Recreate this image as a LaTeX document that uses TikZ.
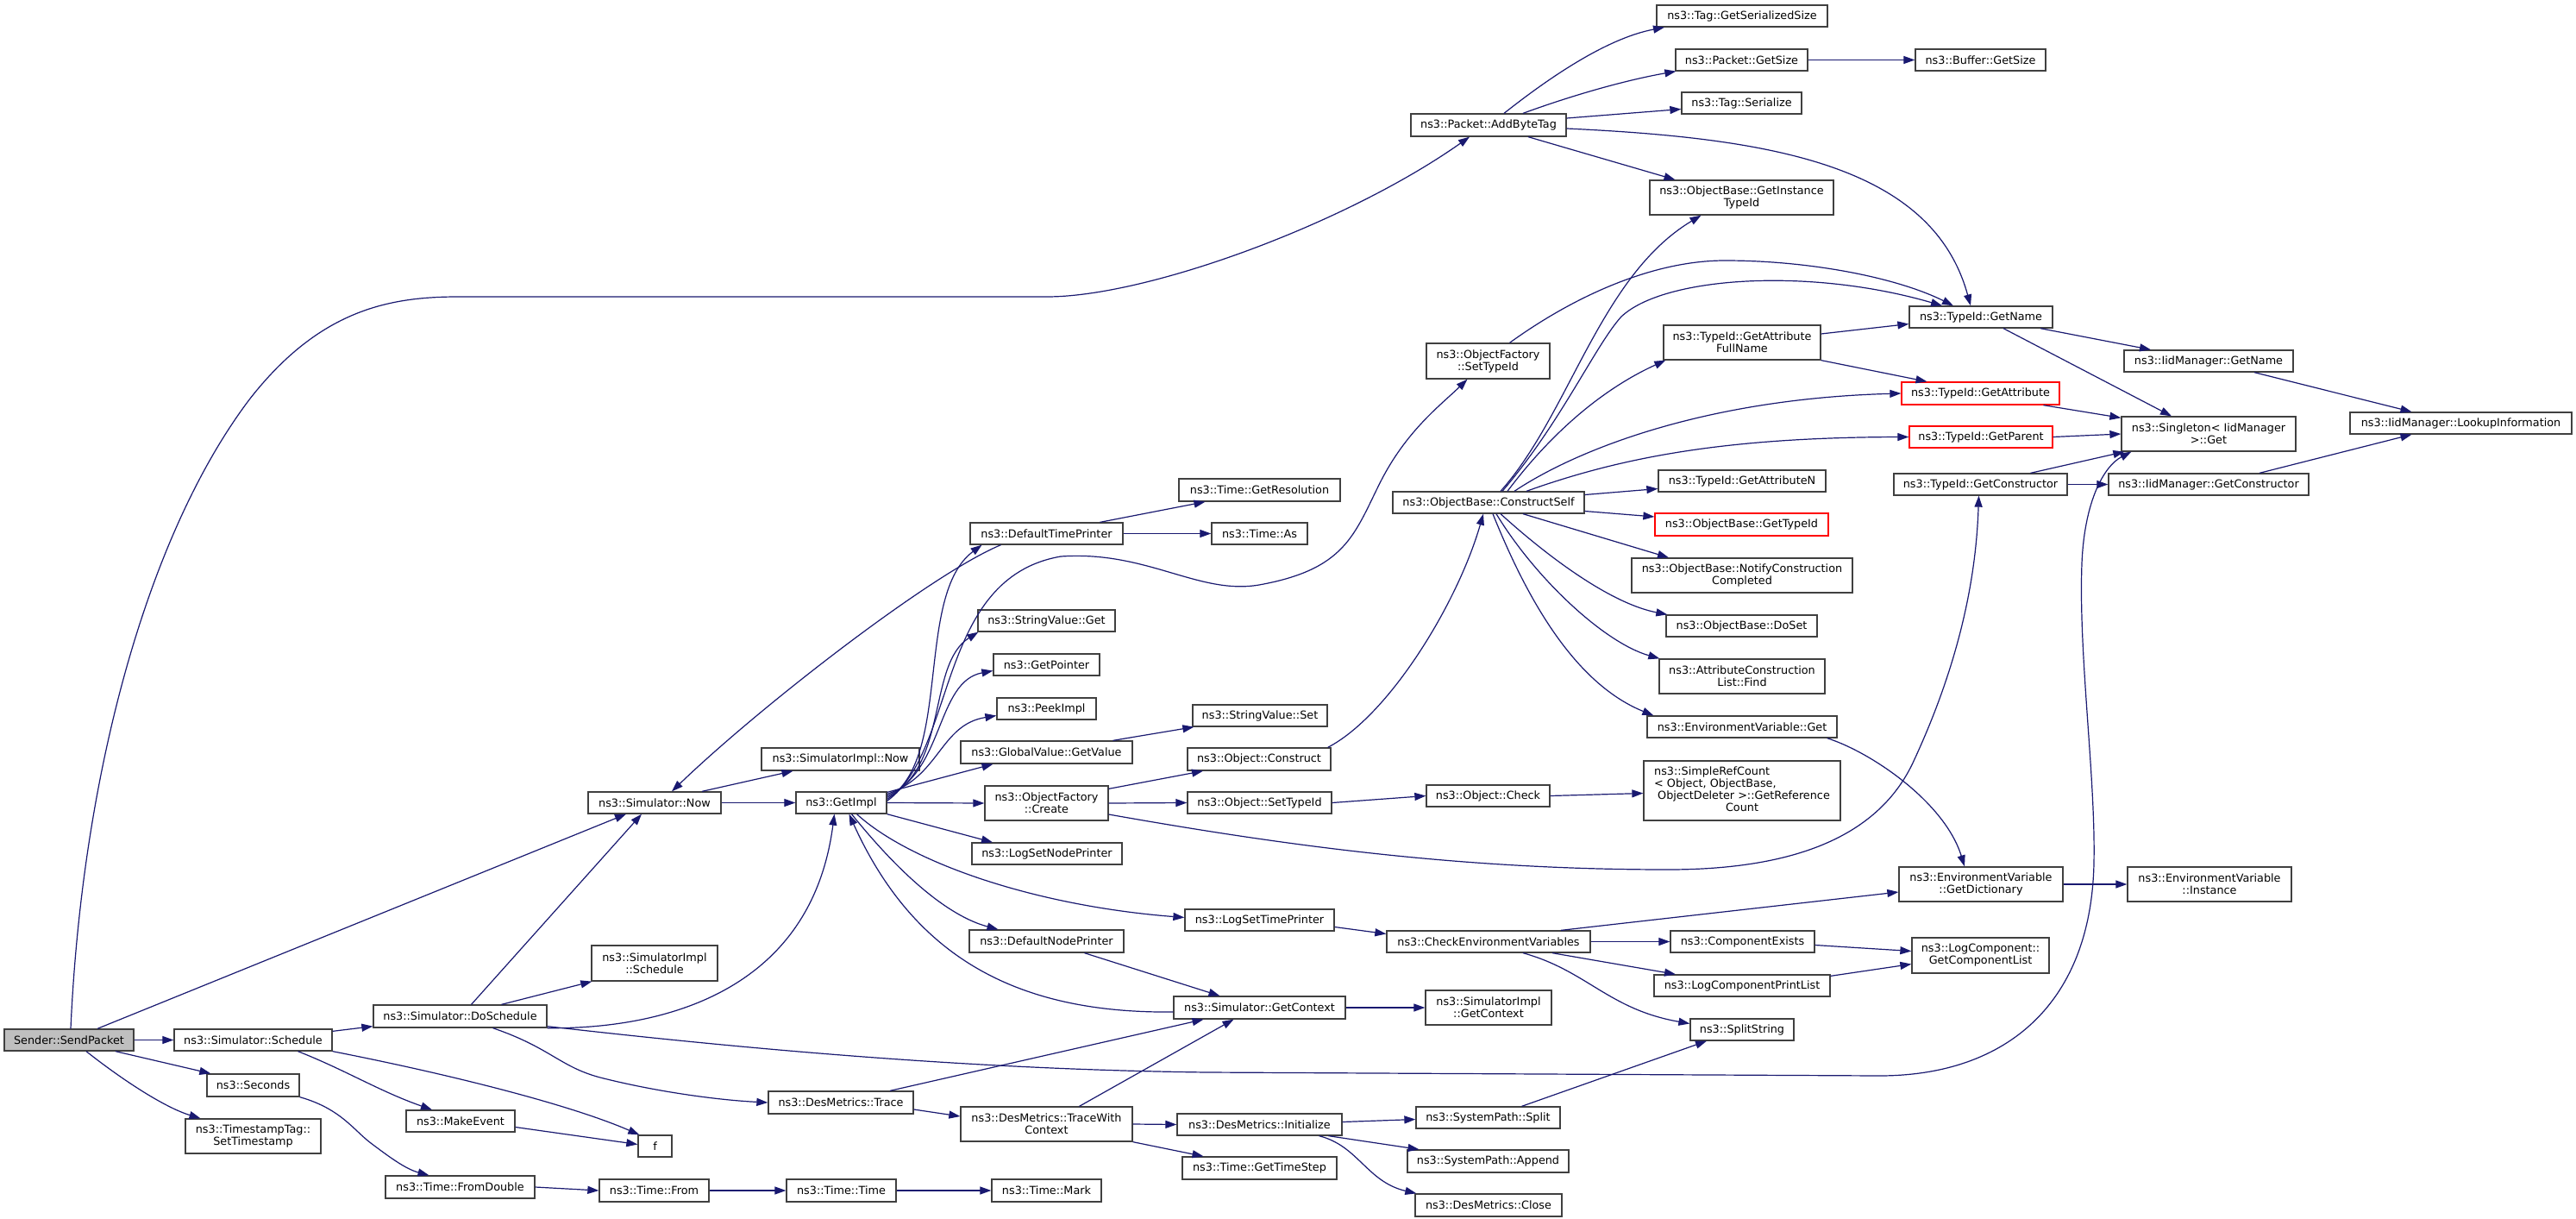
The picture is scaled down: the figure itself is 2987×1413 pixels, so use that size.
\documentclass[tikz,border=0pt]{standalone}
\usepackage{fontspec}
\setmainfont{DejaVu Sans}
\usetikzlibrary{arrows.meta}
\definecolor{edgec}{HTML}{191970}
\definecolor{bord}{HTML}{404040}
\definecolor{rootfill}{HTML}{BFBFBF}
\newcommand\nd[7][]{\node[box,#1,minimum width={#4-#3},minimum height={#6-#5}] (#2) at ({(#3+#4)/2},{(#5+#6)/2}) {#7};}
\begin{document}
\begin{tikzpicture}[x=1pt,y=-1pt,
  box/.style={draw=bord,line width=1.3pt,fill=white,inner sep=0pt,align=center,font=\fontsize{12.8}{14}\selectfont},
  redbox/.style={draw=red},
  rootbox/.style={fill=rootfill},
  edg/.style={draw=edgec,line width=1.2pt,-{Triangle[length=13pt,width=9pt,fill=edgec]}}]
\fill[white] (0,0) rectangle (2987,1413);
\useasboundingbox (0,0) rectangle (2987,1413);
% nodes
\nd[rootbox]{send}{5}{155}{1193}{1218}{Sender::SendPacket}
\nd{sched}{202}{385}{1193}{1218}{ns3::Simulator::Schedule}
\nd{seconds}{240}{347}{1245}{1271}{ns3::Seconds}
\nd{tstamp}{215}{372}{1297}{1337}{ns3::TimestampTag::\\SetTimestamp}
\nd{dosched}{433}{634}{1165}{1191}{ns3::Simulator::DoSchedule}
\nd{mkev}{471}{597}{1287}{1312}{ns3::MakeEvent}
\nd{fromdbl}{447}{620}{1363}{1389}{ns3::Time::FromDouble}
\nd{f}{740}{779}{1316}{1341}{f}
\nd{tfrom}{695}{822}{1367}{1393}{ns3::Time::From}
\nd{ttime}{912}{1039}{1367}{1393}{ns3::Time::Time}
\nd{tmark}{1150}{1277}{1367}{1393}{ns3::Time::Mark}
\nd{simnow}{682}{836}{918}{943}{ns3::Simulator::Now}
\nd{getimpl}{923}{1028}{918}{943}{ns3::GetImpl}
\nd{simimplnow}{883}{1066}{867}{893}{ns3::SimulatorImpl::Now}
\nd{simimplsched}{686}{832}{1096}{1137}{ns3::SimulatorImpl\\::Schedule}
\nd{trace}{891}{1059}{1265}{1291}{ns3::DesMetrics::Trace}
\nd{tracewc}{1114}{1313}{1283}{1323}{ns3::DesMetrics::TraceWith\\Context}
\nd{ofcreate}{1142}{1285}{911}{951}{ns3::ObjectFactory\\::Create}
\nd{logsetnode}{1127}{1301}{977}{1002}{ns3::LogSetNodePrinter}
\nd{defnode}{1124}{1303}{1078}{1104}{ns3::DefaultNodePrinter}
\nd{defTime}{1125}{1302}{606}{631}{ns3::DefaultTimePrinter}
\nd{svget}{1134}{1293}{707}{732}{ns3::StringValue::Get}
\nd{getptr}{1152}{1275}{758}{783}{ns3::GetPointer}
\nd{peek}{1156}{1271}{809}{834}{ns3::PeekImpl}
\nd{gvget}{1114}{1313}{859}{885}{ns3::GlobalValue::GetValue}
\nd{tres}{1367}{1554}{555}{581}{ns3::Time::GetResolution}
\nd{tas}{1405}{1516}{606}{631}{ns3::Time::As}
\nd{svset}{1383}{1539}{817}{842}{ns3::StringValue::Set}
\nd{oconstruct}{1377}{1543}{867}{893}{ns3::Object::Construct}
\nd{osettype}{1377}{1544}{918}{943}{ns3::Object::SetTypeId}
\nd{ocheck}{1654}{1797}{910}{935}{ns3::Object::Check}
\nd{logsettime}{1374}{1547}{1054}{1079}{ns3::LogSetTimePrinter}
\nd{checkenv}{1608}{1844}{1079}{1104}{ns3::CheckEnvironmentVariables}
\nd{simgetctx}{1361}{1560}{1155}{1181}{ns3::Simulator::GetContext}
\nd{simimplctx}{1653}{1799}{1148}{1188}{ns3::SimulatorImpl\\::GetContext}
\nd{desinit}{1365}{1556}{1291}{1316}{ns3::DesMetrics::Initialize}
\nd{gettimestep}{1371}{1550}{1341}{1367}{ns3::Time::GetTimeStep}
\nd{spsplit}{1642}{1809}{1283}{1308}{ns3::SystemPath::Split}
\nd{spappend}{1632}{1819}{1333}{1359}{ns3::SystemPath::Append}
\nd{desclose}{1641}{1811}{1384}{1410}{ns3::DesMetrics::Close}
\nd{simpleref}{1906}{2134}{882}{951}{\begin{tabular}{@{}l@{}}ns3::SimpleRefCount\\< Object, ObjectBase,\\\ ObjectDeleter >::GetReference\\\multicolumn{1}{@{}c@{}}{Count}\end{tabular}}
\nd{envget}{1910}{2130}{830}{855}{ns3::EnvironmentVariable::Get}
\nd{getdict}{2202}{2392}{1005}{1045}{ns3::EnvironmentVariable\\::GetDictionary}
\nd{envinst}{2467}{2657}{1005}{1045}{ns3::EnvironmentVariable\\::Instance}
\nd{compexists}{1937}{2104}{1079}{1104}{ns3::ComponentExists}
\nd{getcomplist}{2217}{2376}{1087}{1128}{ns3::LogComponent::\\GetComponentList}
\nd{logcompprint}{1918}{2122}{1130}{1155}{ns3::LogComponentPrintList}
\nd{splitstr}{1960}{2080}{1181}{1206}{ns3::SplitString}
\nd{constructself}{1615}{1837}{570}{595}{ns3::ObjectBase::ConstructSelf}
\nd{getattrN}{1923}{2117}{545}{570}{ns3::TypeId::GetAttributeN}
\nd[redbox]{obgettype}{1919}{2120}{595}{621}{ns3::ObjectBase::GetTypeId}
\nd{notify}{1892}{2148}{647}{687}{ns3::ObjectBase::NotifyConstruction\\Completed}
\nd{doset}{1932}{2107}{713}{738}{ns3::ObjectBase::DoSet}
\nd{acfind}{1924}{2116}{764}{804}{ns3::AttributeConstruction\\List::Find}
\nd{addbytetag}{1636}{1816}{132}{158}{ns3::Packet::AddByteTag}
\nd{tagsersize}{1921}{2119}{6}{31}{ns3::Tag::GetSerializedSize}
\nd{pktgetsize}{1943}{2096}{57}{82}{ns3::Packet::GetSize}
\nd{bufgetsize}{2221}{2372}{57}{82}{ns3::Buffer::GetSize}
\nd{tagser}{1950}{2089}{107}{132}{ns3::Tag::Serialize}
\nd{getinsttype}{1913}{2126}{209}{249}{ns3::ObjectBase::GetInstance\\TypeId}
\nd{ofsettype}{1654}{1797}{398}{439}{ns3::ObjectFactory\\::SetTypeId}
\nd{getattrfull}{1929}{2111}{377}{417}{ns3::TypeId::GetAttribute\\FullName}
\nd{tgetname}{2214}{2380}{355}{380}{ns3::TypeId::GetName}
\nd{iidgetname}{2463}{2659}{406}{431}{ns3::IidManager::GetName}
\nd[redbox]{getattr}{2205}{2388}{443}{469}{ns3::TypeId::GetAttribute}
\nd[redbox]{getparent}{2214}{2380}{494}{519}{ns3::TypeId::GetParent}
\nd{singleton}{2460}{2662}{483}{523}{ns3::Singleton< IidManager\\ >::Get}
\nd{lookup}{2725}{2982}{478}{503}{ns3::IidManager::LookupInformation}
\nd{tgetctor}{2196}{2397}{549}{574}{ns3::TypeId::GetConstructor}
\nd{iidgetctor}{2445}{2677}{549}{574}{ns3::IidManager::GetConstructor}
% edges from Sender::SendPacket
\draw[edg] ([xshift=2]send.north) .. controls (95,900) and (170,620) .. (290,462) .. controls (370,360) and (450,344) .. (531,344) -- (1214,344) .. controls (1330,344) and (1560,260) .. ([xshift=-22]addbytetag.south);
\draw[edg] ([xshift=33]send.north) -- ([xshift=-33]simnow.south);
\draw[edg] (send.east) -- (sched.west);
\draw[edg] ([xshift=54]send.south) -- ([xshift=5]seconds.north west);
\draw[edg] ([xshift=20]send.south) .. controls (150,1258) and (195,1285) .. ([xshift=-61]tstamp.north);
% Simulator::Schedule
\draw[edg] ([yshift=-3]sched.north east) -- ([yshift=2]dosched.south west);
\draw[edg] ([xshift=52]sched.south) .. controls (400,1240) and (440,1265) .. ([xshift=-33]mkev.north);
\draw[edg] (sched.south east) .. controls (520,1245) and (660,1280) .. ([xshift=2]f.north west);
\draw[edg] ([yshift=-7]mkev.east) -- ([yshift=2]f.west);
\draw[edg] (seconds.south east) .. controls (395,1285) and (410,1310) .. (430,1325) .. controls (450,1340) and (470,1355) .. ([xshift=-36]fromdbl.north);
\draw[edg] (fromdbl.east) -- (tfrom.west);
\draw[edg] (tfrom.east) -- (ttime.west);
\draw[edg] (ttime.east) -- (tmark.west);
% DoSchedule
\draw[edg] ([xshift=13]dosched.north) -- ([xshift=-15]simnow.south);
\draw[edg] ([xshift=48]dosched.north) -- ([xshift=1]simimplsched.south west);
\draw[edg] (dosched.south east) .. controls (760,1193) and (940,1155) .. ([xshift=-8]getimpl.south);
\draw[edg] ([yshift=2]dosched.south east) .. controls (900,1220) and (1150,1240) .. (1400,1243) -- (2179,1247) .. controls (2330,1247) and (2425,1160) .. (2428,1000) .. controls (2430,900) and (2410,760) .. (2414,653) .. controls (2417,580) and (2440,540) .. ([xshift=12]singleton.south west);
\draw[edg] ([xshift=38]dosched.south) .. controls (640,1215) and (650,1238) .. (700,1250) .. controls (760,1265) and (830,1275) .. (trace.west);
% Simulator::Now
\draw[edg] ([xshift=55]simnow.north) -- ([xshift=-55]simimplnow.south);
\draw[edg] (simnow.east) -- (getimpl.west);
\draw[edg] ([xshift=-53]defTime.south) .. controls (1080,665) and (880,820) .. ([xshift=20]simnow.north);
% GetImpl
\draw[edg] ([yshift=-1]getimpl.north east) -- ([xshift=-62]gvget.south);
\draw[edg] ([yshift=-3]getimpl.north east) .. controls (1090,900) and (1090,840) .. ([yshift=-8]peek.west);
\draw[edg] ([yshift=-5]getimpl.north east) .. controls (1095,895) and (1085,790) .. ([yshift=-7]getptr.west);
\draw[edg] ([yshift=-7]getimpl.north east) .. controls (1100,890) and (1075,770) .. ([xshift=1]svget.south west);
\draw[edg] ([yshift=-9]getimpl.north east) .. controls (1105,880) and (1060,690) .. ([xshift=-75]defTime.south);
\draw[edg] ([yshift=-11]getimpl.north east) .. controls (1110,870) and (1085,670) .. (1230,645) .. controls (1330,638) and (1390,690) .. (1460,678) .. controls (1560,660) and (1570,620) .. (1600,560) .. controls (1630,500) and (1670,470) .. ([xshift=-24]ofsettype.south);
\draw[edg] (getimpl.east) -- (ofcreate.west);
\draw[edg] (getimpl.south east) -- ([xshift=-63]logsetnode.north);
\draw[edg] ([xshift=18]getimpl.south) .. controls (1055,1000) and (1200,1050) .. ([yshift=3]logsettime.west);
\draw[edg] ([xshift=12]getimpl.south) .. controls (1045,1015) and (1100,1062) .. ([xshift=-56]defnode.north);
\draw[edg] ([yshift=-5]simgetctx.west) .. controls (1180,1175) and (1060,1110) .. ([xshift=9]getimpl.south);
% DefaultTimePrinter, GlobalValue, ObjectFactory
\draw[edg] ([xshift=62]defTime.north) -- ([xshift=-63]tres.south);
\draw[edg] (defTime.east) -- (tas.west);
\draw[edg] ([xshift=77]gvget.north) -- ([xshift=2]svset.south west);
\draw[edg] ([yshift=-4]ofcreate.north east) -- ([xshift=-65]oconstruct.south);
\draw[edg] (ofcreate.east) -- (osettype.west);
\draw[edg] ([yshift=-13]ofcreate.east) .. controls (1500,982) and (1700,1008) .. (1934,1008) .. controls (2080,1008) and (2180,970) .. (2220,880) .. controls (2280,750) and (2292,650) .. ([xshift=-2]tgetctor.south);
\draw[edg] (osettype.east) -- (ocheck.west);
\draw[edg] (ocheck.east) -- ([yshift=-3]simpleref.west);
\draw[edg] ([xshift=-4]oconstruct.north east) .. controls (1610,830) and (1690,700) .. ([xshift=-6]constructself.south);
% logging / context
\draw[edg] ([yshift=-8]logsettime.east) -- ([yshift=9]checkenv.west);
\draw[edg] ([xshift=44]defnode.south) -- ([xshift=-46]simgetctx.north);
\draw[edg] (simgetctx.east) -- (simimplctx.west);
\draw[edg] ([xshift=57]trace.north) -- ([xshift=-65]simgetctx.south);
\draw[edg] ([yshift=-8]trace.east) -- ([yshift=9]tracewc.west);
\draw[edg] ([xshift=38]tracewc.north) -- ([xshift=-30]simgetctx.south);
\draw[edg] (tracewc.east) -- (desinit.west);
\draw[edg] (tracewc.south east) -- ([xshift=-65]gettimestep.north);
\draw[edg] ([yshift=3]desinit.east) -- ([yshift=-2]spsplit.west);
\draw[edg] ([xshift=80]desinit.south) -- ([xshift=-80]spappend.north);
\draw[edg] ([xshift=69]desinit.south) .. controls (1575,1328) and (1585,1370) .. ([xshift=2]desclose.north west);
\draw[edg] ([xshift=39]spsplit.north) -- ([xshift=-41]splitstr.south);
\draw[edg] ([xshift=84]checkenv.north) -- ([yshift=-9]getdict.west);
\draw[edg] (checkenv.east) -- (compexists.west);
\draw[edg] ([xshift=74]checkenv.south) -- ([xshift=-77]logcompprint.north);
\draw[edg] ([xshift=40]checkenv.south) .. controls (1840,1125) and (1865,1170) .. ([yshift=7]splitstr.west);
\draw[edg] ([yshift=-4]compexists.east) -- ([yshift=5]getcomplist.west);
\draw[edg] ([yshift=-2]logcompprint.north east) -- ([yshift=-10]getcomplist.west);
\draw[edg] (getdict.east) -- (envinst.west);
\draw[edg] ([xshift=-12]envget.south east) .. controls (2170,872) and (2255,930) .. ([xshift=-19]getdict.north);
% ConstructSelf
\draw[edg] ([xshift=14]constructself.north) .. controls (1820,480) and (1855,320) .. ([xshift=-47]getinsttype.south);
\draw[edg] ([xshift=16]constructself.north) .. controls (1810,490) and (1850,400) .. (1880,367) .. controls (1930,320) and (2100,310) .. ([xshift=-45]tgetname.north);
\draw[edg] ([xshift=22]constructself.north) .. controls (1800,500) and (1860,450) .. ([xshift=3]getattrfull.south west);
\draw[edg] ([xshift=30]constructself.north) .. controls (1830,520) and (1980,462) .. (getattr.west);
\draw[edg] ([xshift=44]constructself.north) .. controls (1880,530) and (2000,507) .. (getparent.west);
\draw[edg] ([yshift=9]constructself.east) -- ([yshift=-9]getattrN.west);
\draw[edg] ([yshift=-10]constructself.east) -- ([yshift=9]obgettype.west);
\draw[edg] ([xshift=40]constructself.south) -- ([xshift=-85]notify.north);
\draw[edg] ([xshift=14]constructself.south) .. controls (1800,650) and (1870,700) .. ([xshift=2]doset.north west);
\draw[edg] ([xshift=9]constructself.south) .. controls (1780,670) and (1860,745) .. ([xshift=1]acfind.north west);
\draw[edg] ([xshift=5]constructself.south) .. controls (1765,680) and (1820,790) .. ([xshift=8]envget.north west);
% Packet / TypeId
\draw[edg] ([xshift=25]ofsettype.north) .. controls (1830,340) and (1920,302) .. (2000,302) .. controls (2100,302) and (2200,322) .. ([xshift=-32]tgetname.north);
\draw[edg] ([yshift=-4]addbytetag.east) .. controls (2050,160) and (2240,190) .. ([xshift=-12]tgetname.north);
\draw[edg] ([xshift=18]addbytetag.north) .. controls (1790,95) and (1860,45) .. ([xshift=-90]tagsersize.south);
\draw[edg] ([xshift=40]addbytetag.north) .. controls (1830,108) and (1890,92) .. ([xshift=1]pktgetsize.south west);
\draw[edg] ([yshift=8]addbytetag.east) -- ([yshift=-7]tagser.west);
\draw[edg] ([xshift=46]addbytetag.south) -- ([xshift=-77]getinsttype.north);
\draw[edg] (pktgetsize.east) -- (bufgetsize.west);
\draw[edg] ([yshift=10]getattrfull.east) -- ([yshift=-8]tgetname.west);
\draw[edg] (getattrfull.south east) -- ([xshift=-62]getattr.north);
\draw[edg] ([xshift=69]tgetname.south) -- ([xshift=-67]iidgetname.north);
\draw[edg] ([xshift=26]tgetname.south) -- ([xshift=-43]singleton.north);
\draw[edg] ([xshift=53]iidgetname.south) -- ([xshift=-57]lookup.north);
\draw[edg] ([xshift=73]getattr.south) -- ([yshift=-2]singleton.north west);
\draw[edg] (getparent.east) -- (singleton.west);
\draw[edg] ([xshift=58]tgetctor.north) -- ([xshift=4]singleton.south west);
\draw[edg] (tgetctor.east) -- (iidgetctor.west);
\draw[edg] ([xshift=59]iidgetctor.north) -- ([xshift=-57]lookup.south);
\end{tikzpicture}
\end{document}
